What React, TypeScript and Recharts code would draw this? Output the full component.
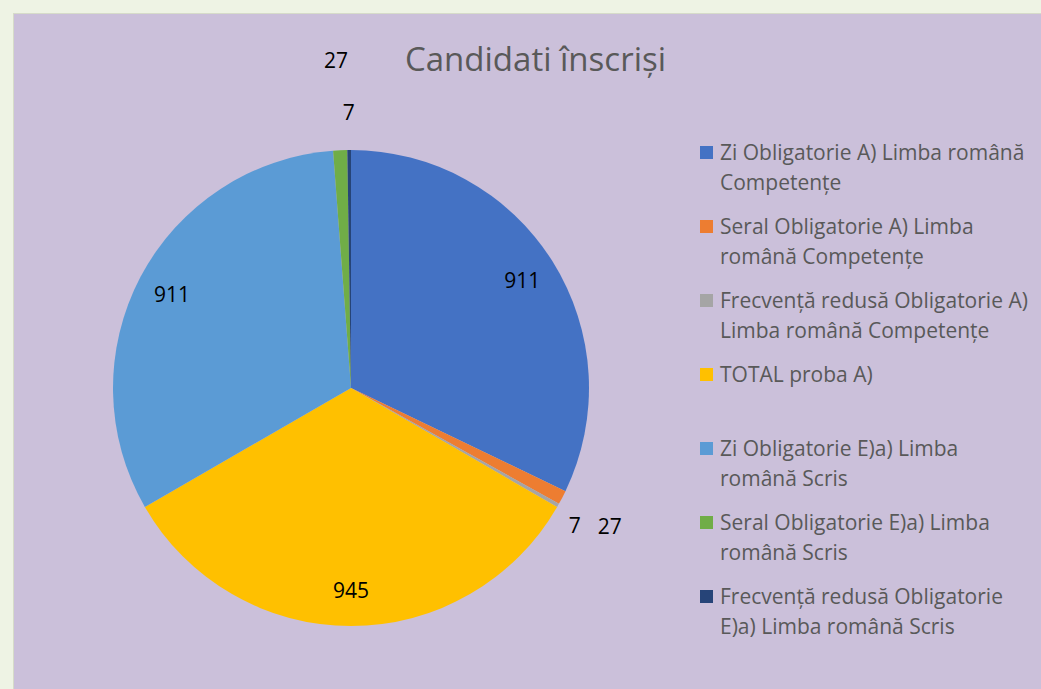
import { PieChart, Pie, Cell, Legend } from "recharts";

const categories = [
  "Zi Obligatorie A) Limba română Competențe",
  "Seral Obligatorie A) Limba română Competențe",
  "Frecvență redusă Obligatorie A) Limba română Competențe",
  "TOTAL proba A)",
  "Zi Obligatorie E)a) Limba română Scris",
  "Seral Obligatorie E)a) Limba română Scris",
  "Frecvență redusă Obligatorie E)a) Limba română Scris",
];
const values = [911, 27, 7, 945, 911, 27, 7];
const colors = ["#4472C4", "#ED7D31", "#A5A5A5", "#FFC000", "#5B9BD5", "#70AD47", "#264478"];

const chartData = categories.map((name, i) => ({ name, value: values[i] }));

const RAD = Math.PI / 180;
const FONT = "'Open Sans', 'Noto Sans', sans-serif";

// Excel-ish label placement: big slices inside, small ones pushed outside
const renderLabel = (props: any) => {
  const { cx, cy, midAngle, outerRadius, value, index } = props;
  let r = outerRadius * 0.85;
  let dx = 0;
  let dy = 0;
  if (value < 100) {
    r = outerRadius + 40;
    if (index === 1) {
      dx = 12;
      dy = 10;
    }
    if (index === 2) dx = -18;
    if (index === 5) r = outerRadius + 90;
    if (index === 6) r = outerRadius + 38;
  }
  const x = cx + r * Math.cos(-midAngle * RAD) + dx;
  const y = cy + r * Math.sin(-midAngle * RAD) + dy;
  return (
    <text
      x={x}
      y={y}
      fill="#000"
      fontSize={21}
      fontFamily={FONT}
      textAnchor="middle"
      dominantBaseline="central"
    >
      {value}
    </text>
  );
};

const renderLegend = () => (
  <div style={{ fontFamily: FONT, fontSize: 21, color: "#595959", lineHeight: "30px" }}>
    {categories.map((c, i) => (
      <div key={c} style={{ display: "flex", height: 60, marginBottom: 14 }}>
        <div
          style={{
            width: 13,
            height: 13,
            background: colors[i],
            marginTop: 9,
            marginRight: 7,
            flexShrink: 0,
          }}
        />
        <div style={{ width: 312 }}>{c}</div>
      </div>
    ))}
  </div>
);

export default function App() {
  return (
    <div
      style={{
        position: "absolute",
        left: 0,
        top: 0,
        width: 1041,
        height: 689,
        background: "#EEF3E4",
        overflow: "hidden",
      }}
    >
      <div
        style={{
          position: "absolute",
          left: 13,
          top: 13,
          width: 1040,
          height: 690,
          background: "#CBC0DA",
          border: "1px solid #D6DBC9",
        }}
      >
        <div
          style={{
            position: "absolute",
            left: 0,
            top: 22,
            width: 1043,
            textAlign: "center",
            fontFamily: FONT,
            fontSize: 33,
            color: "#595959",
          }}
        >
          Candidati înscriși
        </div>
        <PieChart width={1027} height={675}>
          <Pie
            data={chartData}
            dataKey="value"
            nameKey="name"
            cx={332}
            cy={369}
            outerRadius={238}
            startAngle={90}
            endAngle={-270}
            stroke="none"
            label={renderLabel}
            labelLine={false}
            isAnimationActive={false}
          >
            {chartData.map((d, i) => (
              <Cell key={d.name} fill={colors[i]} />
            ))}
          </Pie>
          <Legend
            content={renderLegend}
            wrapperStyle={{ position: "absolute", left: 686, top: 123, width: 340 }}
          />
        </PieChart>
      </div>
    </div>
  );
}
